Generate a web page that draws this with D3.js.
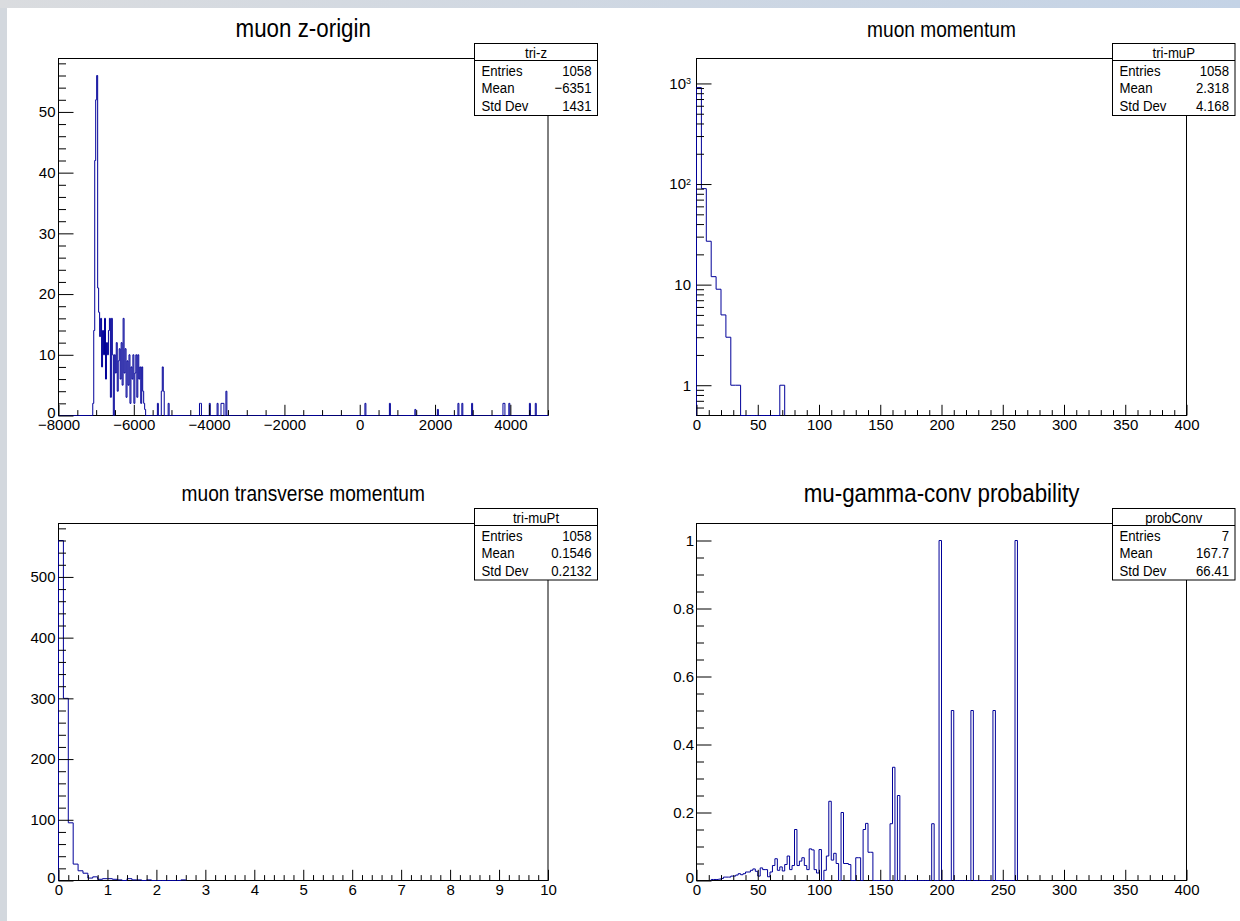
<!DOCTYPE html>
<html>
<head>
<meta charset="utf-8">
<script src="https://cdn.jsdelivr.net/npm/d3@7"></script>
<style>
  body { margin: 0; background: #fff; }
  svg { display: block; font-family: "Liberation Sans", Arial, Helvetica, sans-serif; }
</style>
</head>
<body>
<svg id="canvas" width="1240" height="921"></svg>
<script>
// ---- data ----

// tri-z : 500 bins of 26 from -8000 to 5000
const zBinWidth = 26;
const zDenseFrom = -7090;
const zDense = [2, 14, 42, 52, 56, 21, 17, 13, 16, 8, 14, 10, 16, 6, 12, 10, 14, 16, 3, 16,
                10, 0, 10, 7, 12, 4, 9, 11, 6, 12, 5, 16, 7, 11, 3, 9, 5, 10, 2, 8,
                6, 10, 2, 7, 10, 3, 10, 6, 8, 2, 8, 4, 2, 1];
const zSparseAt = [-5360, -5267, -5241, -5214, -5082, -4233, -4206, -3994, -3782, -3676, -3649,
                   -3623, -3543, 145, 808, 1471, 2081, 2612, 2718, 2983, 3806, 3832, 3965, 4522, 4681];
const zSparseN = [2, 4, 8, 4, 2, 2, 2, 2, 2, 2, 2, 2, 4, 2, 2, 1, 1, 2, 2, 2, 2, 2, 2, 2, 2];

// tri-muP : bins of 4 from 0
const pBinWidth = 4;
const pCounts = [909, 90, 27, 12, 9, 5, 3, 1, 1, 0, 0, 0, 0, 0, 0, 0, 0, 1];

// tri-muPt : bins of 0.1 from 0
const ptBinWidth = 0.1;
const ptCounts = [560, 300, 95, 27, 16, 12, 4, 6, 2, 3, 3, 2, 1, 0, 3, 1, 1, 0, 1, 0, 0, 0, 0, 0, 0, 1];

// probConv : bins of 2 starting at 12
const convBinWidth = 2;
const convFrom = 12;
const convVals = [0.003, 0.003, 0.003, 0.004, 0.006, 0.01, 0.01, 0.01, 0.013, 0.013,
                  0.016, 0.02, 0.017, 0.02, 0.025, 0.025, 0.03, 0.034, 0.027, 0.013,
                  0.037, 0.032, 0.032, 0.011, 0.025, 0.044, 0.064, 0.03, 0.04, 0.028,
                  0.047, 0.072, 0.032, 0.044, 0.15, 0.044, 0.057, 0.067, 0.044, 0.032,
                  0.093, 0.09, 0.032, 0.022, 0.091, 0, 0.03, 0.072, 0.233, 0.06,
                  0.08, 0.05, 0, 0.2, 0.05, 0.05, 0.047, 0, 0, 0.067,
                  0.067, 0, 0.15, 0.168, 0.083, 0.083, 0, 0, 0, 0,
                  0, 0, 0, 0.167, 0.333, 0, 0.25, 0, 0, 0,
                  0, 0, 0, 0, 0, 0, 0, 0, 0, 0,
                  0.167, 0, 0, 1, 0, 0, 0, 0, 0.5, 0,
                  0, 0, 0, 0, 0, 0, 0.5, 0, 0, 0,
                  0, 0, 0, 0, 0, 0.5, 0, 0, 0, 0,
                  0, 0, 0, 0, 1];

const statsRows = ["Entries", "Mean", "Std Dev"];
const zStats = ["1058", "\u22126351", "1431"];
const pStats = ["1058", "2.318", "4.168"];
const ptStats = ["1058", "0.1546", "0.2132"];
const convStats = ["7", "167.7", "66.41"];

// ---- helpers ----
function binsFrom(start, width, values) {
  return values.map((n, i) => ({ lo: start + i * width, hi: start + (i + 1) * width, n: n }));
}

const zFull = new Array(500).fill(0);
zDense.forEach((n, i) => { zFull[Math.round((zDenseFrom + 8000) / zBinWidth) + i] += n; });
zSparseAt.forEach((z, i) => { zFull[Math.floor((z + 8000) / zBinWidth)] += zSparseN[i]; });

const svg = d3.select("#canvas");

// window chrome around the ROOT canvas
const grad = svg.append("defs").append("linearGradient").attr("id", "topbar");
grad.append("stop").attr("offset", "0%").attr("stop-color", "#dadcdf");
grad.append("stop").attr("offset", "100%").attr("stop-color", "#c4d3e6");
svg.append("rect").attr("width", 1240).attr("height", 921).attr("fill", "#fff");
svg.append("rect").attr("x", 0).attr("y", 0).attr("width", 7).attr("height", 921).attr("fill", "#d3d8de");
svg.append("rect").attr("x", 0).attr("y", 0).attr("width", 1240).attr("height", 8).attr("fill", "url(#topbar)");

const panels = [
  {
    title: "muon z-origin", titleSize: 26, titleScale: 0.86, titleBase: 37,
    frame: { l: 58.5, r: 548, t: 58.5, b: 415.5 },
    xDomain: [-8000, 5000], xMajor: d3.range(-8000, 4001, 2000), xMinor: d3.range(-8000, 5001, 500),
    yDomain: [0, 58.8], yMajor: d3.range(0, 51, 10), yMinor: d3.range(0, 59, 2), yPad: 3,
    bins: binsFrom(-8000, zBinWidth, zFull),
    stats: { name: "tri-z", x: 474.5, y: 43.5, w: 123, h: 72, vals: zStats }
  },
  {
    title: "muon momentum", titleSize: 22.5, titleScale: 0.85, titleBase: 36.5,
    frame: { l: 696.5, r: 1186.5, t: 58.5, b: 415.5 },
    xDomain: [0, 400], xMajor: d3.range(0, 401, 50), xMinor: d3.range(0, 401, 10),
    log: true, yDomain: [0.5, 1770], yMajor: [1, 10, 100, 1000],
    yMinor: [0.6, 0.7, 0.8, 0.9, 2, 3, 4, 5, 6, 7, 8, 9, 20, 30, 40, 50, 60, 70, 80, 90,
             200, 300, 400, 500, 600, 700, 800, 900], yPad: 5.5,
    bins: binsFrom(0, pBinWidth, pCounts),
    stats: { name: "tri-muP", x: 1112.5, y: 43.5, w: 122.5, h: 72, vals: pStats }
  },
  {
    title: "muon transverse momentum", titleSize: 22.5, titleScale: 0.85, titleBase: 500.5,
    frame: { l: 58.5, r: 548, t: 523.5, b: 880.5 },
    xDomain: [0, 10], xMajor: d3.range(0, 11, 1), xMinor: d3.range(0, 50, 1).map(d => d / 5),
    yDomain: [0, 588], yMajor: d3.range(0, 501, 100), yMinor: d3.range(0, 588, 20), yPad: 3,
    bins: binsFrom(0, ptBinWidth, ptCounts),
    stats: { name: "tri-muPt", x: 474.5, y: 508.5, w: 123, h: 71.5, vals: ptStats }
  },
  {
    title: "mu-gamma-conv probability", titleSize: 26, titleScale: 0.86, titleBase: 501.5,
    frame: { l: 696.5, r: 1186.5, t: 523.5, b: 880.5 },
    xDomain: [0, 400], xMajor: d3.range(0, 401, 50), xMinor: d3.range(0, 401, 10),
    yDomain: [0, 1.05], yMajor: [0, 0.2, 0.4, 0.6, 0.8, 1], yMinor: d3.range(0, 21, 1).map(d => d / 20), yPad: 2.5,
    bins: binsFrom(convFrom, convBinWidth, convVals),
    stats: { name: "probConv", x: 1112.5, y: 508.5, w: 122.5, h: 71.5, vals: convStats }
  }
];

function drawPanel(p) {
  const f = p.frame;
  const g = svg.append("g");
  const x = d3.scaleLinear().domain(p.xDomain).range([f.l, f.r]);
  const y = (p.log ? d3.scaleLog() : d3.scaleLinear()).domain(p.yDomain).range([f.b, f.t]);
  const yv = v => p.log ? y(Math.max(v, p.yDomain[0])) : y(v);

  // frame
  g.append("rect")
    .attr("x", f.l).attr("y", f.t)
    .attr("width", f.r - f.l).attr("height", f.b - f.t)
    .attr("fill", "none").attr("stroke", "#000").attr("stroke-width", 1);

  // histogram outline (step line)
  const path = d3.path();
  path.moveTo(x(p.bins[0].lo), f.b);
  p.bins.forEach(b => {
    path.lineTo(x(b.lo), yv(b.n));
    path.lineTo(x(b.hi), yv(b.n));
  });
  path.lineTo(x(p.bins[p.bins.length - 1].hi), f.b);
  g.append("path")
    .attr("d", path.toString())
    .attr("fill", "none")
    .attr("stroke", "#000099")
    .attr("stroke-width", 1);

  const fmt = d3.format("~g");
  const xMinor = p.xMinor.filter(v => !p.xMajor.some(m => Math.abs(m - v) < 1e-9));
  const yMinor = p.yMinor.filter(v => !p.yMajor.some(m => Math.abs(m - v) < 1e-9));

  // x axis, ticks pointing into the frame
  const xg = g.append("g").attr("transform", "translate(0," + f.b + ")");
  xg.append("g")
    .call(d3.axisBottom(x).tickValues(xMinor).tickSize(-5.4).tickFormat(""))
    .call(a => a.select(".domain").remove());
  xg.append("g")
    .call(d3.axisBottom(x).tickValues(p.xMajor).tickSize(-10.7).tickPadding(4).tickFormat(fmt))
    .call(a => a.select(".domain").remove());
  xg.selectAll("g").attr("font-size", 15).attr("font-family", null).attr("color", "#000");
  xg.selectAll("text").attr("fill", "#000");

  // y axis
  const yg = g.append("g").attr("transform", "translate(" + f.l + ",0)");
  yg.append("g")
    .call(d3.axisLeft(y).tickValues(yMinor).tickSize(-7.5).tickFormat(""))
    .call(a => a.select(".domain").remove());
  const ymaj = yg.append("g")
    .call(d3.axisLeft(y).tickValues(p.yMajor).tickSize(-15).tickPadding(p.yPad).tickFormat(fmt))
    .call(a => a.select(".domain").remove());
  yg.selectAll("g").attr("font-size", 15).attr("font-family", null).attr("color", "#000");
  yg.selectAll("text").attr("fill", "#000");
  // the zero label sits just above the x labels, as in the original
  ymaj.selectAll(".tick text").filter(d => d === 0).attr("dy", "0.1em");

  if (p.log) {
    ymaj.selectAll(".tick text").each(function (d) {
      if (d >= 100) {
        const t = d3.select(this);
        t.text("10");
        t.append("tspan").attr("dy", "-0.5em").attr("font-size", 9)
          .text(Math.round(Math.log10(d)));
      }
    });
  }

  // title
  g.append("text")
    .attr("transform", "translate(" + ((f.l + f.r) / 2) + "," + p.titleBase + ") scale(" + p.titleScale + ",1)")
    .attr("text-anchor", "middle")
    .attr("font-size", p.titleSize)
    .attr("fill", "#000")
    .text(p.title);

  drawStats(p.stats);
}

function drawStats(s) {
  const g = svg.append("g");
  g.append("rect")
    .attr("x", s.x).attr("y", s.y).attr("width", s.w).attr("height", s.h)
    .attr("fill", "#fff").attr("stroke", "#000").attr("stroke-width", 1);
  g.append("line")
    .attr("x1", s.x).attr("x2", s.x + s.w)
    .attr("y1", s.y + 17).attr("y2", s.y + 17)
    .attr("stroke", "#000").attr("stroke-width", 1);
  const label = (txt, tx, ty, anchor) => g.append("text")
    .attr("transform", "translate(" + tx + "," + ty + ") scale(0.88,1)")
    .attr("text-anchor", anchor)
    .attr("font-size", 15)
    .attr("fill", "#000")
    .text(txt);
  label(s.name, s.x + s.w / 2, s.y + 14.5, "middle");
  statsRows.forEach((r, i) => {
    const ty = s.y + 32.5 + i * 17.3;
    label(r, s.x + 7, ty, "start");
    label(s.vals[i], s.x + s.w - 6, ty, "end");
  });
}

panels.forEach(drawPanel);
</script>
</body>
</html>
